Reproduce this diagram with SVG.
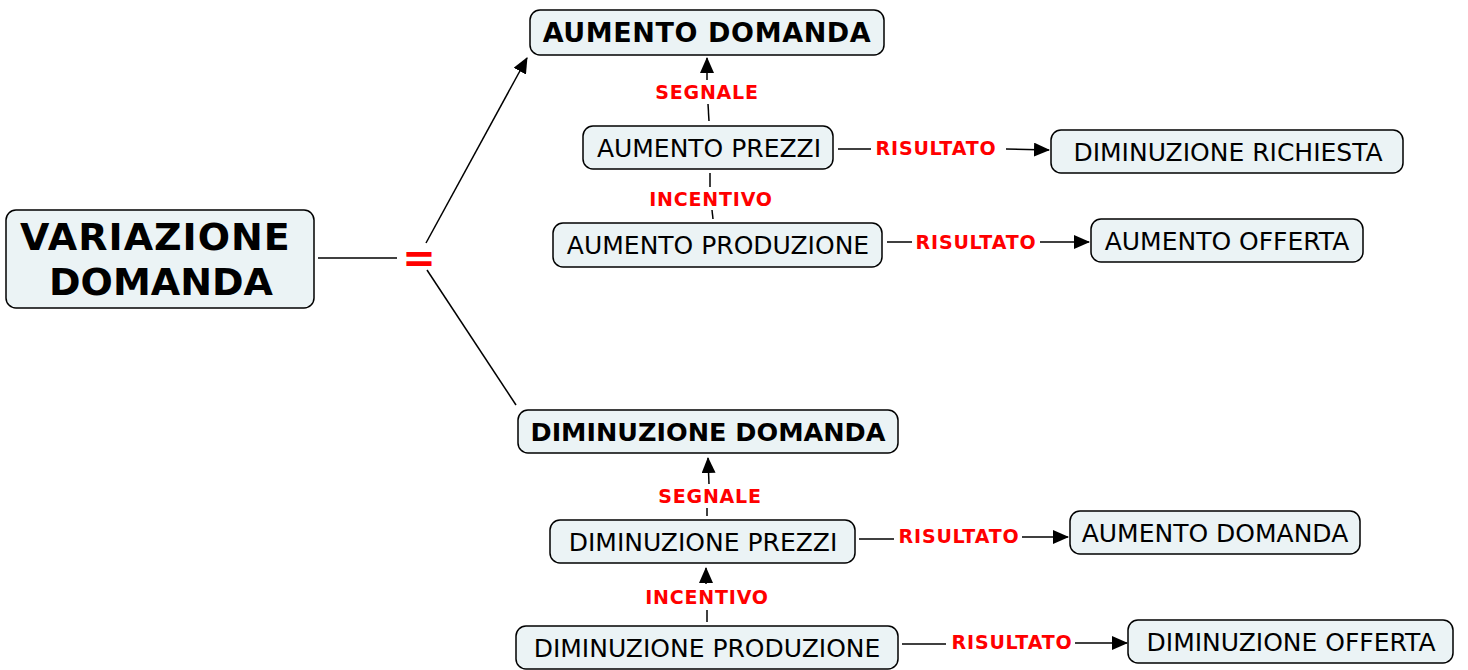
<svg xmlns="http://www.w3.org/2000/svg" width="1468" height="670" viewBox="0 0 1468 670">
<style>
.n rect{fill:#ebf3f5;stroke:#000;stroke-width:1.5}
.n text{font-family:"DejaVu Sans",Verdana,sans-serif;text-anchor:middle;fill:#000}
.t{font-size:25px}
.b{font-size:27px;font-weight:bold;letter-spacing:0.6px}
.r{font-size:38px;font-weight:bold}
.c line{stroke:#000;stroke-width:1.5}
.c text{font-family:"DejaVu Sans",Verdana,sans-serif;font-weight:bold;font-size:19px;letter-spacing:0.8px;fill:#ff0000;text-anchor:middle}
</style>
<defs>
<marker id="ah" markerUnits="userSpaceOnUse" markerWidth="16" markerHeight="14" refX="15" refY="7" orient="auto">
<path d="M0,0 L16,7 L0,14 Z" fill="#000"/>
</marker>
</defs>
<g class="c" id="connectors">
<line x1="318" y1="258" x2="397" y2="258"/>
<text x="419" y="272" style="font-size:40px;letter-spacing:0">=</text>
<line x1="426" y1="243" x2="527" y2="58" marker-end="url(#ah)"/>
<line x1="427" y1="270" x2="516" y2="405"/>
<line x1="709" y1="121" x2="708" y2="104"/>
<line x1="707" y1="80" x2="707" y2="58" marker-end="url(#ah)"/>
<text x="707" y="99">SEGNALE</text>
<line x1="713" y1="219" x2="712" y2="210"/>
<line x1="710" y1="187" x2="710" y2="173"/>
<text x="711" y="206">INCENTIVO</text>
<line x1="838" y1="149" x2="871" y2="149"/>
<line x1="1006" y1="149" x2="1049" y2="150" marker-end="url(#ah)"/>
<text x="936" y="155">RISULTATO</text>
<line x1="887" y1="242" x2="912" y2="242"/>
<line x1="1040" y1="242" x2="1089" y2="242" marker-end="url(#ah)"/>
<text x="976" y="249">RISULTATO</text>
<line x1="707" y1="516" x2="707" y2="508"/>
<line x1="709" y1="484" x2="708" y2="458" marker-end="url(#ah)"/>
<text x="710" y="503">SEGNALE</text>
<line x1="707" y1="622" x2="707" y2="610"/>
<line x1="706" y1="584" x2="706" y2="568" marker-end="url(#ah)"/>
<text x="707" y="604">INCENTIVO</text>
<line x1="859" y1="539" x2="894" y2="539"/>
<line x1="1022" y1="537" x2="1068" y2="537" marker-end="url(#ah)"/>
<text x="959" y="543">RISULTATO</text>
<line x1="902" y1="644" x2="946" y2="644"/>
<line x1="1075" y1="643" x2="1127" y2="643" marker-end="url(#ah)"/>
<text x="1012" y="649">RISULTATO</text>
</g>
<g class="n" id="variazione-domanda">
<rect x="6" y="210" width="308" height="98" rx="10"/>
<text class="r" x="20" y="250" style="text-anchor:start;letter-spacing:1px">VARIAZIONE</text>
<text class="r" x="161" y="295">DOMANDA</text>
</g>
<g class="n" id="aumento-domanda">
<rect x="530" y="10" width="354" height="45" rx="10"/>
<text class="b" x="707" y="42">AUMENTO DOMANDA</text>
</g>
<g class="n" id="aumento-prezzi">
<rect x="583" y="126" width="250" height="43" rx="10"/>
<text class="t" x="709" y="157">AUMENTO PREZZI</text>
</g>
<g class="n" id="diminuzione-richiesta">
<rect x="1051" y="130" width="352" height="43" rx="10"/>
<text class="t" x="1228" y="161">DIMINUZIONE RICHIESTA</text>
</g>
<g class="n" id="aumento-produzione">
<rect x="553" y="223" width="329" height="44" rx="10"/>
<text class="t" x="718" y="254">AUMENTO PRODUZIONE</text>
</g>
<g class="n" id="aumento-offerta">
<rect x="1091" y="219" width="272" height="43" rx="10"/>
<text class="t" x="1227" y="250">AUMENTO OFFERTA</text>
</g>
<g class="n" id="diminuzione-domanda">
<rect x="518" y="410" width="380" height="43" rx="10"/>
<text x="708" y="441" style="font-size:25.5px;font-weight:bold">DIMINUZIONE DOMANDA</text>
</g>
<g class="n" id="diminuzione-prezzi">
<rect x="550" y="520" width="305" height="43" rx="10"/>
<text class="t" x="703" y="551">DIMINUZIONE PREZZI</text>
</g>
<g class="n" id="aumento-domanda-2">
<rect x="1070" y="511" width="290" height="43" rx="10"/>
<text class="t" x="1215" y="542">AUMENTO DOMANDA</text>
</g>
<g class="n" id="diminuzione-produzione">
<rect x="516" y="626" width="382" height="43" rx="10"/>
<text class="t" x="707" y="657">DIMINUZIONE PRODUZIONE</text>
</g>
<g class="n" id="diminuzione-offerta">
<rect x="1128" y="620" width="325" height="43" rx="10"/>
<text class="t" x="1291" y="651">DIMINUZIONE OFFERTA</text>
</g>
</svg>
